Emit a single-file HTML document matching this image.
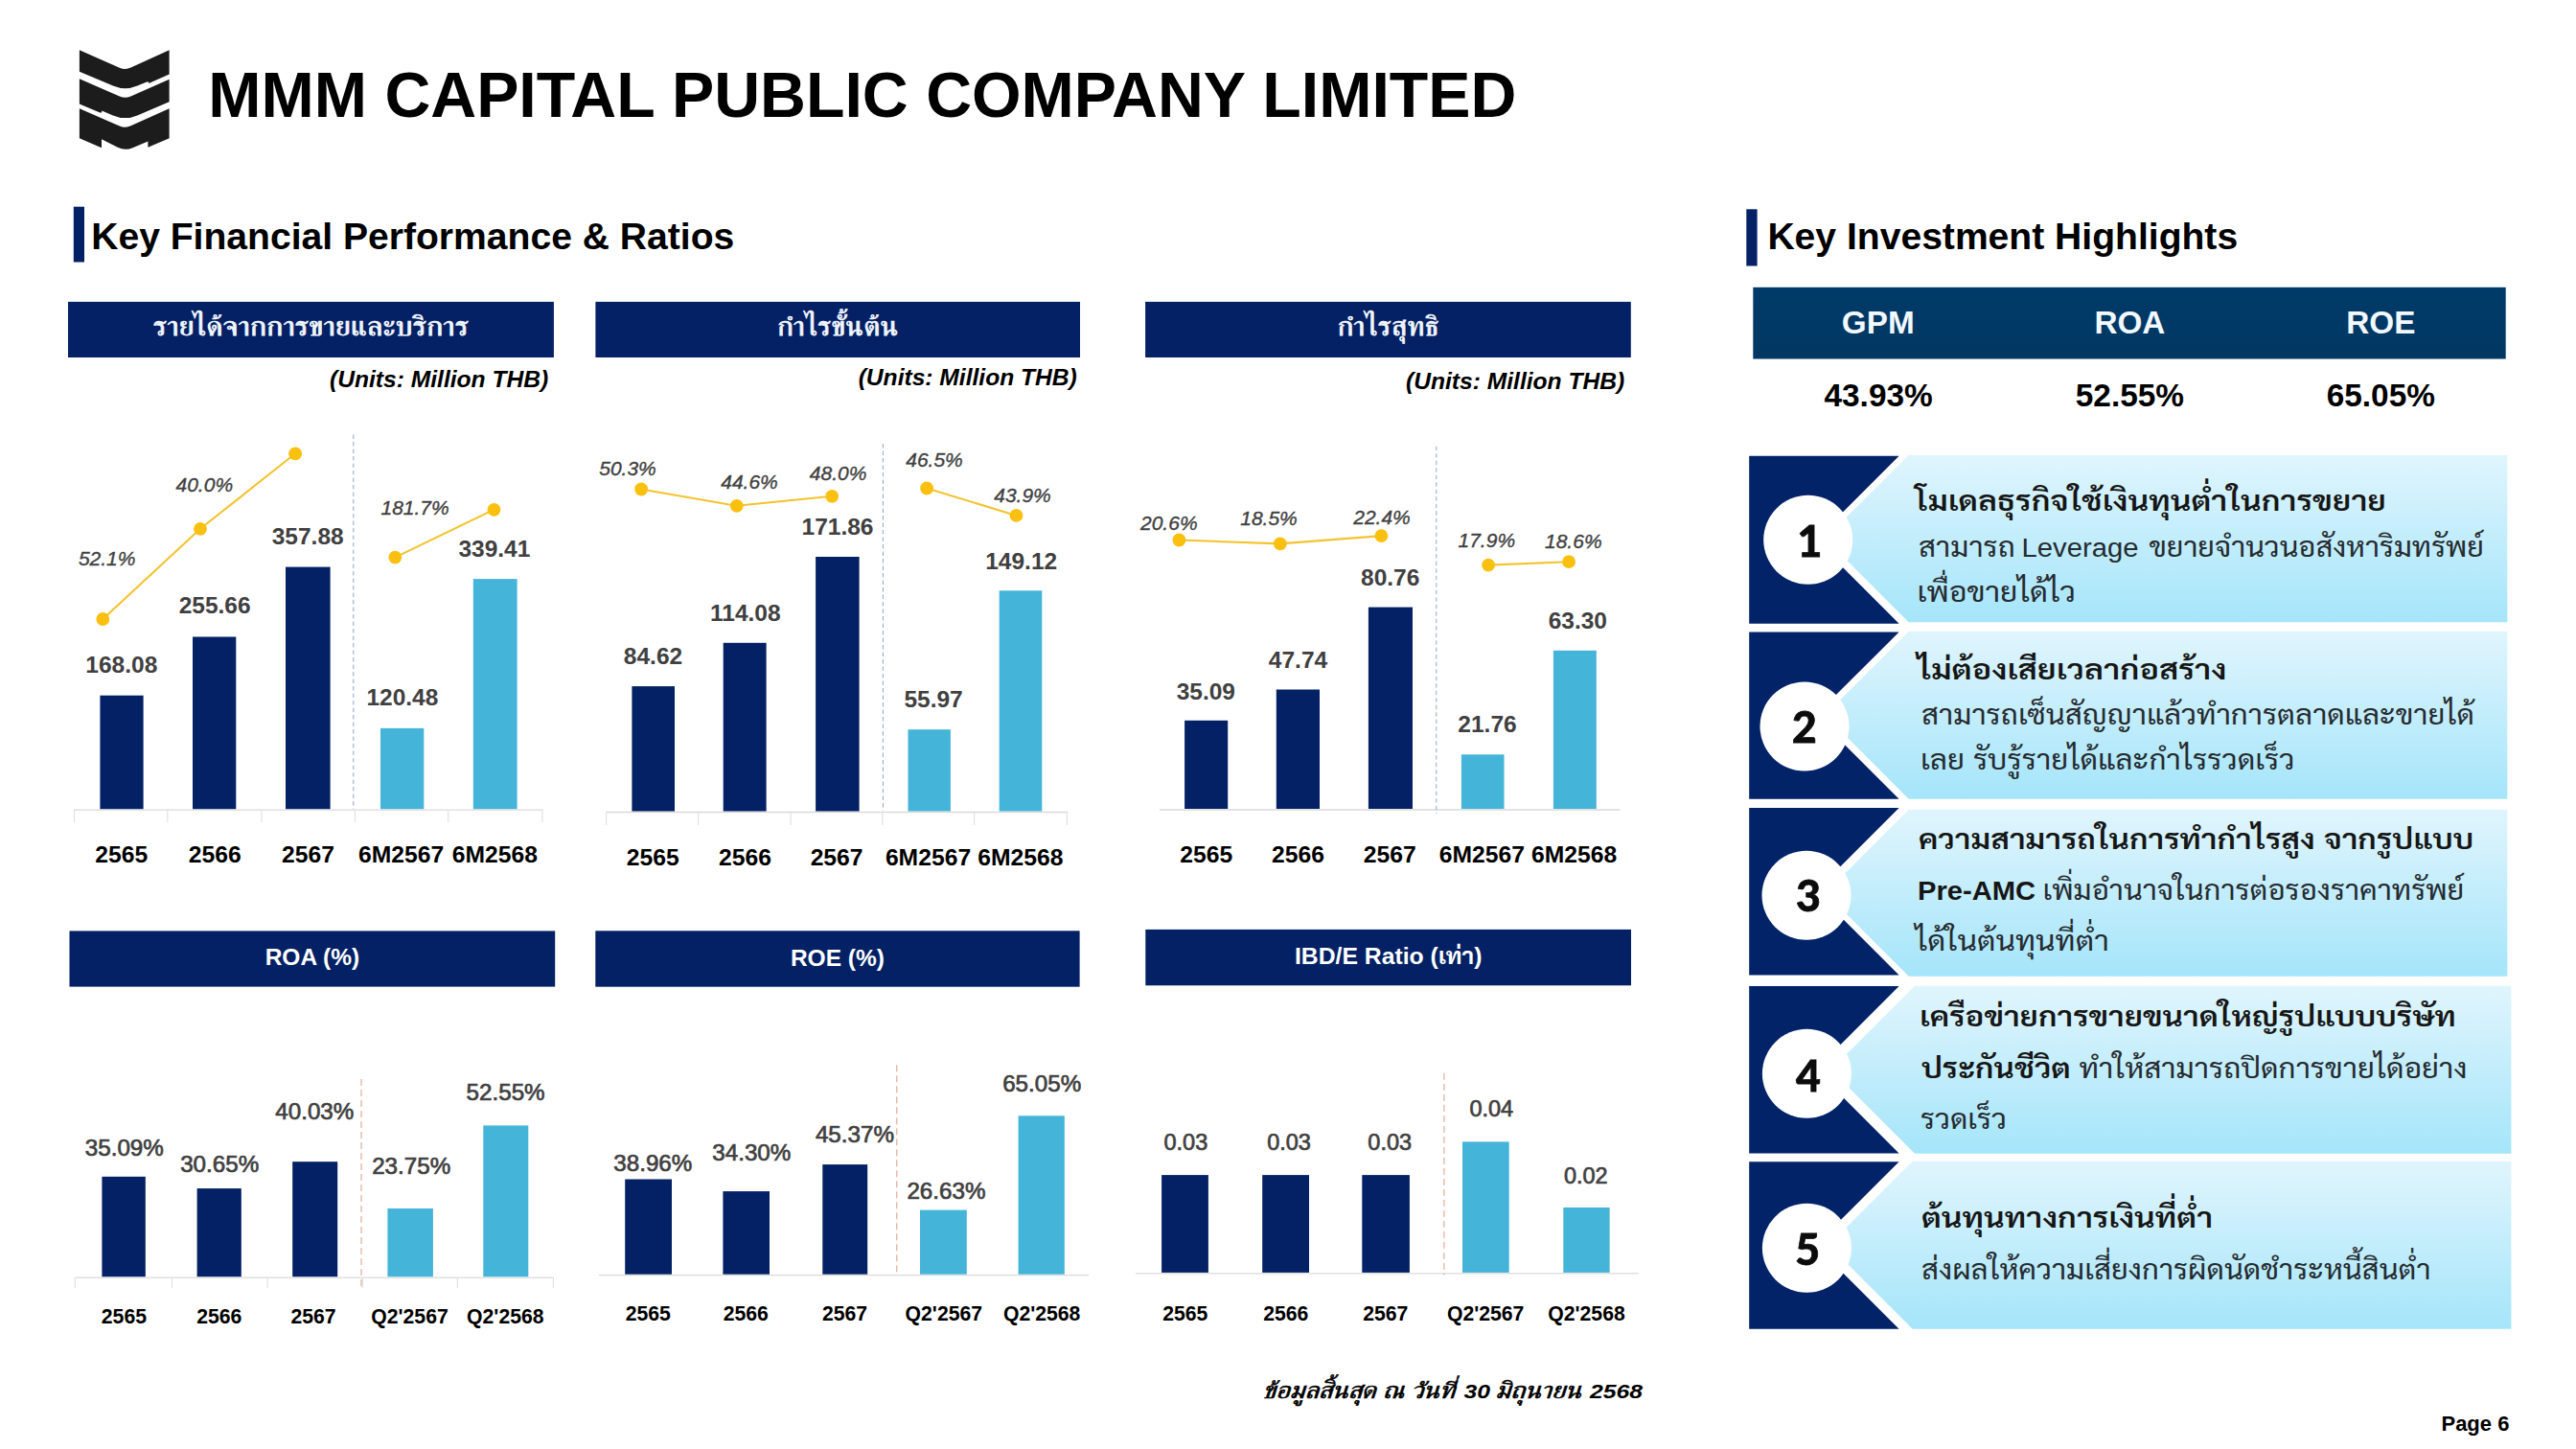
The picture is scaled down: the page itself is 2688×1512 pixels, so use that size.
<!DOCTYPE html>
<html lang="th">
<head>
<meta charset="utf-8">
<title>MMM CAPITAL PUBLIC COMPANY LIMITED - Page 6</title>
<style>
html,body{margin:0;padding:0;background:#fff;}
body{width:2688px;height:1512px;overflow:hidden;}
svg{display:block;font-family:'Liberation Sans','Sarabun','Loma','Noto Sans Thai',sans-serif;}
text{white-space:pre;}
</style>
</head>
<body>
<svg width="2688" height="1512" viewBox="0 0 2688 1512">
<defs>
<linearGradient id="gItem" x1="0" y1="0" x2="0" y2="1">
<stop offset="0" stop-color="#E0F5FD"/><stop offset="1" stop-color="#A5E5FA"/>
</linearGradient>
<linearGradient id="gTbl" x1="0" y1="0" x2="0" y2="1">
<stop offset="0" stop-color="#003A68"/><stop offset="1" stop-color="#003862"/>
</linearGradient>
</defs>
<rect width="2688" height="1512" fill="#fff"/>
<g transform="translate(60,30) scale(0.09662)" fill="#1c1c1c">
<path d="M237,229 L670,421 Q731,448 792,420 L1207,229 L1207,492 L985,590 L985,574 L964,574 L862,617 Q731,673 600,617 L237,463 Z"/>
<path d="M237,541 L670,729.4 Q731,756 792,728.8 L1207,545 L1207,788 L862,935.5 Q731,991.5 600,935.9 L478,884 L478,905 L458,905 L237,812 Z"/>
<path d="M237,862 L670,1049.9 Q731,1076.4 792,1048.8 L1207,862 L1207,1182 L977,1281 L977,1215 L812,1285.2 Q731,1319.6 650,1279.7 L476,1194 L476,1285 L237,1182 Z"/>
</g>
<text x="217.3" y="122.3" font-size="66.3" fill="#000" font-weight="700" >MMM CAPITAL PUBLIC COMPANY LIMITED</text>
<rect x="76.8" y="215.7" width="11.2" height="57.8" fill="#032164" />
<text x="95.2" y="259.9" font-size="39.1" fill="#000" font-weight="700" >Key Financial Performance &amp; Ratios</text>
<rect x="1822.3" y="218.3" width="11.3" height="59.2" fill="#032164" />
<text x="1844.4" y="259.9" font-size="39.1" fill="#000" font-weight="700" >Key Investment Highlights</text>
<rect x="71.0" y="314.9" width="506.9" height="58.1" fill="#032164" />
<text x="324.4" y="349.6" font-size="28.5" fill="#F1F5FC" text-anchor="middle" font-family="'Liberation Serif','FreeSerif','Noto Serif Thai','Sarabun',serif" textLength="329.3" lengthAdjust="spacingAndGlyphs" stroke="#F1F5FC" stroke-width="0.75">รายได้จากการขายและบริการ</text>
<rect x="621.4" y="314.9" width="505.6" height="58.1" fill="#032164" />
<text x="874.2" y="349.6" font-size="28.5" fill="#F1F5FC" text-anchor="middle" font-family="'Liberation Serif','FreeSerif','Noto Serif Thai','Sarabun',serif" textLength="126.5" lengthAdjust="spacingAndGlyphs" stroke="#F1F5FC" stroke-width="0.75">กำไรขั้นต้น</text>
<rect x="1195.1" y="314.9" width="506.7" height="58.1" fill="#032164" />
<text x="1448.4" y="349.6" font-size="28.5" fill="#F1F5FC" text-anchor="middle" font-family="'Liberation Serif','FreeSerif','Noto Serif Thai','Sarabun',serif" textLength="105.7" lengthAdjust="spacingAndGlyphs" stroke="#F1F5FC" stroke-width="0.75">กำไรสุทธิ</text>
<rect x="72.5" y="971.4" width="506.7" height="58.2" fill="#032164" />
<text x="325.9" y="1007.4" font-size="24.5" fill="#fff" font-weight="700" text-anchor="middle" >ROA (%)</text>
<rect x="621.3" y="971.3" width="505.3" height="58.4" fill="#032164" />
<text x="873.9" y="1007.9" font-size="24.5" fill="#fff" font-weight="700" text-anchor="middle" >ROE (%)</text>
<rect x="1195.3" y="969.9" width="506.7" height="58.4" fill="#032164" />
<text x="1448.7" y="1006.0" font-size="24.5" fill="#fff" font-weight="700" text-anchor="middle" textLength="195.5" lengthAdjust="spacingAndGlyphs" >IBD/E Ratio (เท่า)</text>
<text x="572.2" y="403.8" font-size="24.6" fill="#000" font-weight="700" font-style="italic" text-anchor="end" >(Units: Million THB)</text>
<text x="1123.8" y="401.7" font-size="24.6" fill="#000" font-weight="700" font-style="italic" text-anchor="end" >(Units: Million THB)</text>
<text x="1695.2" y="405.7" font-size="24.6" fill="#000" font-weight="700" font-style="italic" text-anchor="end" >(Units: Million THB)</text>
<line x1="77" y1="845.2" x2="566.5" y2="845.2" stroke="#D9D9D9" stroke-width="1.3"/>
<line x1="77.5" y1="845.2" x2="77.5" y2="858" stroke="#E0E0E0" stroke-width="1.1"/>
<line x1="174.8" y1="845.2" x2="174.8" y2="858" stroke="#E0E0E0" stroke-width="1.1"/>
<line x1="272.9" y1="845.2" x2="272.9" y2="858" stroke="#E0E0E0" stroke-width="1.1"/>
<line x1="370.5" y1="845.2" x2="370.5" y2="858" stroke="#E0E0E0" stroke-width="1.1"/>
<line x1="467.7" y1="845.2" x2="467.7" y2="858" stroke="#E0E0E0" stroke-width="1.1"/>
<line x1="565.9" y1="845.2" x2="565.9" y2="858" stroke="#E0E0E0" stroke-width="1.1"/>
<rect x="104.4" y="725.7" width="45.2" height="118.5" fill="#032164" />
<rect x="201.0" y="664.5" width="45.3" height="179.7" fill="#032164" />
<rect x="298.0" y="591.6" width="46.6" height="252.6" fill="#032164" />
<rect x="397.0" y="759.9" width="45.3" height="84.3" fill="#45B4D9" />
<rect x="493.8" y="604.1" width="45.8" height="240.1" fill="#45B4D9" />
<line x1="368.8" y1="453.5" x2="368.8" y2="844" stroke="#8FA3CC" stroke-width="1" stroke-dasharray="4.5 3"/>
<polyline points="107.3,646 209,551.8 308.1,473.3" fill="none" stroke="#F3C32E" stroke-width="2.1"/>
<circle cx="107.3" cy="646" r="6.9" fill="#FAC010"/>
<circle cx="209" cy="551.8" r="6.9" fill="#FAC010"/>
<circle cx="308.1" cy="473.3" r="6.9" fill="#FAC010"/>
<polyline points="412.3,581.6 515.5,531.8" fill="none" stroke="#F3C32E" stroke-width="2.1"/>
<circle cx="412.3" cy="581.6" r="6.9" fill="#FAC010"/>
<circle cx="515.5" cy="531.8" r="6.9" fill="#FAC010"/>
<text x="111.7" y="589.6" font-size="21" fill="#404040" font-style="italic" text-anchor="middle" stroke="#404040" stroke-width="0.35">52.1%</text>
<text x="213.3" y="512.6" font-size="21" fill="#404040" font-style="italic" text-anchor="middle" stroke="#404040" stroke-width="0.35">40.0%</text>
<text x="433.1" y="536.9" font-size="21" fill="#404040" font-style="italic" text-anchor="middle" stroke="#404040" stroke-width="0.35">181.7%</text>
<text x="126.8" y="702.3" font-size="24.5" fill="#404040" font-weight="700" text-anchor="middle" >168.08</text>
<text x="224.1" y="640.4" font-size="24.5" fill="#404040" font-weight="700" text-anchor="middle" >255.66</text>
<text x="321.2" y="568.2" font-size="24.5" fill="#404040" font-weight="700" text-anchor="middle" >357.88</text>
<text x="419.9" y="736.4" font-size="24.5" fill="#404040" font-weight="700" text-anchor="middle" >120.48</text>
<text x="515.9" y="581.2" font-size="24.5" fill="#404040" font-weight="700" text-anchor="middle" >339.41</text>
<text x="126.8" y="900.0" font-size="24.7" fill="#000" font-weight="700" text-anchor="middle" >2565</text>
<text x="224.2" y="900.0" font-size="24.7" fill="#000" font-weight="700" text-anchor="middle" >2566</text>
<text x="321.5" y="900.0" font-size="24.7" fill="#000" font-weight="700" text-anchor="middle" >2567</text>
<text x="418.7" y="900.0" font-size="24.7" fill="#000" font-weight="700" text-anchor="middle" >6M2567</text>
<text x="516.3" y="900.0" font-size="24.7" fill="#000" font-weight="700" text-anchor="middle" >6M2568</text>
<line x1="632.6" y1="847.5" x2="1114" y2="847.5" stroke="#D9D9D9" stroke-width="1.3"/>
<line x1="632.6" y1="847.5" x2="632.6" y2="861" stroke="#E0E0E0" stroke-width="1.1"/>
<line x1="728.6" y1="847.5" x2="728.6" y2="861" stroke="#E0E0E0" stroke-width="1.1"/>
<line x1="825.1" y1="847.5" x2="825.1" y2="861" stroke="#E0E0E0" stroke-width="1.1"/>
<line x1="920.9" y1="847.5" x2="920.9" y2="861" stroke="#E0E0E0" stroke-width="1.1"/>
<line x1="1016.6" y1="847.5" x2="1016.6" y2="861" stroke="#E0E0E0" stroke-width="1.1"/>
<line x1="1113.4" y1="847.5" x2="1113.4" y2="861" stroke="#E0E0E0" stroke-width="1.1"/>
<rect x="659.4" y="716.1" width="44.6" height="130.4" fill="#032164" />
<rect x="754.7" y="670.8" width="44.9" height="175.7" fill="#032164" />
<rect x="851.1" y="581.0" width="45.5" height="265.5" fill="#032164" />
<rect x="947.5" y="761.2" width="44.4" height="85.3" fill="#45B4D9" />
<rect x="1042.7" y="616.3" width="44.6" height="230.2" fill="#45B4D9" />
<line x1="921.4" y1="463" x2="921.4" y2="846" stroke="#8FA3CC" stroke-width="1" stroke-dasharray="4.5 3"/>
<polyline points="669.1,510.5 768.8,527.8 868.2,517.8" fill="none" stroke="#F3C32E" stroke-width="2.1"/>
<circle cx="669.1" cy="510.5" r="6.9" fill="#FAC010"/>
<circle cx="768.8" cy="527.8" r="6.9" fill="#FAC010"/>
<circle cx="868.2" cy="517.8" r="6.9" fill="#FAC010"/>
<polyline points="967.1,509.5 1060.5,537.9" fill="none" stroke="#F3C32E" stroke-width="2.1"/>
<circle cx="967.1" cy="509.5" r="6.9" fill="#FAC010"/>
<circle cx="1060.5" cy="537.9" r="6.9" fill="#FAC010"/>
<text x="655.0" y="495.7" font-size="21" fill="#404040" font-style="italic" text-anchor="middle" stroke="#404040" stroke-width="0.35">50.3%</text>
<text x="782.0" y="510.0" font-size="21" fill="#404040" font-style="italic" text-anchor="middle" stroke="#404040" stroke-width="0.35">44.6%</text>
<text x="874.6" y="500.9" font-size="21" fill="#404040" font-style="italic" text-anchor="middle" stroke="#404040" stroke-width="0.35">48.0%</text>
<text x="975.0" y="486.5" font-size="21" fill="#404040" font-style="italic" text-anchor="middle" stroke="#404040" stroke-width="0.35">46.5%</text>
<text x="1067.0" y="524.4" font-size="21" fill="#404040" font-style="italic" text-anchor="middle" stroke="#404040" stroke-width="0.35">43.9%</text>
<text x="681.5" y="692.6" font-size="24.5" fill="#404040" font-weight="700" text-anchor="middle" >84.62</text>
<text x="777.8" y="647.8" font-size="24.5" fill="#404040" font-weight="700" text-anchor="middle" >114.08</text>
<text x="874.0" y="558.3" font-size="24.5" fill="#404040" font-weight="700" text-anchor="middle" >171.86</text>
<text x="974.1" y="737.7" font-size="24.5" fill="#404040" font-weight="700" text-anchor="middle" >55.97</text>
<text x="1065.7" y="593.5" font-size="24.5" fill="#404040" font-weight="700" text-anchor="middle" >149.12</text>
<text x="681.3" y="902.5" font-size="24.7" fill="#000" font-weight="700" text-anchor="middle" >2565</text>
<text x="777.4" y="902.5" font-size="24.7" fill="#000" font-weight="700" text-anchor="middle" >2566</text>
<text x="873.1" y="902.5" font-size="24.7" fill="#000" font-weight="700" text-anchor="middle" >2567</text>
<text x="968.5" y="902.5" font-size="24.7" fill="#000" font-weight="700" text-anchor="middle" >6M2567</text>
<text x="1064.9" y="902.5" font-size="24.7" fill="#000" font-weight="700" text-anchor="middle" >6M2568</text>
<line x1="1210" y1="845" x2="1690.6" y2="845" stroke="#D9D9D9" stroke-width="1.3"/>
<rect x="1236.1" y="751.8" width="45.1" height="92.2" fill="#032164" />
<rect x="1331.8" y="719.5" width="45.2" height="124.5" fill="#032164" />
<rect x="1427.9" y="633.6" width="46.1" height="210.4" fill="#032164" />
<rect x="1524.9" y="787.3" width="44.6" height="56.7" fill="#45B4D9" />
<rect x="1620.9" y="678.8" width="44.9" height="165.2" fill="#45B4D9" />
<line x1="1498.8" y1="465.7" x2="1498.8" y2="849" stroke="#8FA3CC" stroke-width="1" stroke-dasharray="4.5 3"/>
<polyline points="1230.4,563.5 1335.8,567.4 1441.4,559.1" fill="none" stroke="#F3C32E" stroke-width="2.1"/>
<circle cx="1230.4" cy="563.5" r="6.9" fill="#FAC010"/>
<circle cx="1335.8" cy="567.4" r="6.9" fill="#FAC010"/>
<circle cx="1441.4" cy="559.1" r="6.9" fill="#FAC010"/>
<polyline points="1553.1,589.6 1637.1,586.2" fill="none" stroke="#F3C32E" stroke-width="2.1"/>
<circle cx="1553.1" cy="589.6" r="6.9" fill="#FAC010"/>
<circle cx="1637.1" cy="586.2" r="6.9" fill="#FAC010"/>
<text x="1219.8" y="553.1" font-size="21" fill="#404040" font-style="italic" text-anchor="middle" stroke="#404040" stroke-width="0.35">20.6%</text>
<text x="1324.0" y="547.8" font-size="21" fill="#404040" font-style="italic" text-anchor="middle" stroke="#404040" stroke-width="0.35">18.5%</text>
<text x="1442.0" y="547.1" font-size="21" fill="#404040" font-style="italic" text-anchor="middle" stroke="#404040" stroke-width="0.35">22.4%</text>
<text x="1551.3" y="570.5" font-size="21" fill="#404040" font-style="italic" text-anchor="middle" stroke="#404040" stroke-width="0.35">17.9%</text>
<text x="1641.8" y="572.1" font-size="21" fill="#404040" font-style="italic" text-anchor="middle" stroke="#404040" stroke-width="0.35">18.6%</text>
<text x="1258.3" y="729.9" font-size="24.5" fill="#404040" font-weight="700" text-anchor="middle" >35.09</text>
<text x="1354.5" y="696.5" font-size="24.5" fill="#404040" font-weight="700" text-anchor="middle" >47.74</text>
<text x="1450.7" y="610.5" font-size="24.5" fill="#404040" font-weight="700" text-anchor="middle" >80.76</text>
<text x="1552.0" y="763.8" font-size="24.5" fill="#404040" font-weight="700" text-anchor="middle" >21.76</text>
<text x="1646.3" y="655.6" font-size="24.5" fill="#404040" font-weight="700" text-anchor="middle" >63.30</text>
<text x="1258.8" y="899.5" font-size="24.7" fill="#000" font-weight="700" text-anchor="middle" >2565</text>
<text x="1354.5" y="899.5" font-size="24.7" fill="#000" font-weight="700" text-anchor="middle" >2566</text>
<text x="1450.3" y="899.5" font-size="24.7" fill="#000" font-weight="700" text-anchor="middle" >2567</text>
<text x="1546.3" y="899.5" font-size="24.7" fill="#000" font-weight="700" text-anchor="middle" >6M2567</text>
<text x="1642.6" y="899.5" font-size="24.7" fill="#000" font-weight="700" text-anchor="middle" >6M2568</text>
<line x1="78.3" y1="1333.2" x2="577.9" y2="1333.2" stroke="#D9D9D9" stroke-width="1.3"/>
<line x1="78.3" y1="1333.2" x2="78.3" y2="1344" stroke="#E0E0E0" stroke-width="1.1"/>
<line x1="179.5" y1="1333.2" x2="179.5" y2="1344" stroke="#E0E0E0" stroke-width="1.1"/>
<line x1="279.2" y1="1333.2" x2="279.2" y2="1344" stroke="#E0E0E0" stroke-width="1.1"/>
<line x1="378.3" y1="1333.2" x2="378.3" y2="1344" stroke="#E0E0E0" stroke-width="1.1"/>
<line x1="477.4" y1="1333.2" x2="477.4" y2="1344" stroke="#E0E0E0" stroke-width="1.1"/>
<line x1="577.4" y1="1333.2" x2="577.4" y2="1344" stroke="#E0E0E0" stroke-width="1.1"/>
<rect x="106.4" y="1227.8" width="45.4" height="104.4" fill="#032164" />
<rect x="205.6" y="1240.1" width="46.2" height="92.1" fill="#032164" />
<rect x="305.2" y="1212.2" width="47.0" height="120.0" fill="#032164" />
<rect x="404.4" y="1261.0" width="47.5" height="71.2" fill="#45B4D9" />
<rect x="504.3" y="1174.4" width="47.0" height="157.8" fill="#45B4D9" />
<line x1="377" y1="1126" x2="377" y2="1342.6" stroke="#DB9C82" stroke-width="1" stroke-dasharray="7 4"/>
<text x="129.8" y="1205.7" font-size="24.2" fill="#404040" text-anchor="middle" stroke="#404040" stroke-width="0.7">35.09%</text>
<text x="229.2" y="1223.2" font-size="24.2" fill="#404040" text-anchor="middle" stroke="#404040" stroke-width="0.7">30.65%</text>
<text x="328.3" y="1167.8" font-size="24.2" fill="#404040" text-anchor="middle" stroke="#404040" stroke-width="0.7">40.03%</text>
<text x="429.2" y="1224.5" font-size="24.2" fill="#404040" text-anchor="middle" stroke="#404040" stroke-width="0.7">23.75%</text>
<text x="527.6" y="1148.3" font-size="24.2" fill="#404040" text-anchor="middle" stroke="#404040" stroke-width="0.7">52.55%</text>
<text x="129.4" y="1381.0" font-size="21.2" fill="#000" font-weight="700" text-anchor="middle" >2565</text>
<text x="228.7" y="1381.0" font-size="21.2" fill="#000" font-weight="700" text-anchor="middle" >2566</text>
<text x="327.0" y="1381.0" font-size="21.2" fill="#000" font-weight="700" text-anchor="middle" >2567</text>
<text x="427.5" y="1381.0" font-size="21.2" fill="#000" font-weight="700" text-anchor="middle" >Q2'2567</text>
<text x="527.3" y="1381.0" font-size="21.2" fill="#000" font-weight="700" text-anchor="middle" >Q2'2568</text>
<line x1="624.8" y1="1330.7" x2="1136.1" y2="1330.7" stroke="#D9D9D9" stroke-width="1.3"/>
<rect x="652.2" y="1230.5" width="48.8" height="99.2" fill="#032164" />
<rect x="754.4" y="1243.1" width="48.6" height="86.6" fill="#032164" />
<rect x="858.3" y="1215.1" width="46.9" height="114.6" fill="#032164" />
<rect x="960.0" y="1262.6" width="48.8" height="67.1" fill="#45B4D9" />
<rect x="1062.6" y="1164.3" width="48.2" height="165.4" fill="#45B4D9" />
<line x1="935.8" y1="1111.3" x2="935.8" y2="1330.5" stroke="#DB9C82" stroke-width="1" stroke-dasharray="7 4"/>
<text x="681.3" y="1222.2" font-size="24.2" fill="#404040" text-anchor="middle" stroke="#404040" stroke-width="0.7">38.96%</text>
<text x="784.3" y="1211.2" font-size="24.2" fill="#404040" text-anchor="middle" stroke="#404040" stroke-width="0.7">34.30%</text>
<text x="891.9" y="1192.2" font-size="24.2" fill="#404040" text-anchor="middle" stroke="#404040" stroke-width="0.7">45.37%</text>
<text x="987.4" y="1250.9" font-size="24.2" fill="#404040" text-anchor="middle" stroke="#404040" stroke-width="0.7">26.63%</text>
<text x="1087.2" y="1138.7" font-size="24.2" fill="#404040" text-anchor="middle" stroke="#404040" stroke-width="0.7">65.05%</text>
<text x="676.3" y="1377.9" font-size="21.2" fill="#000" font-weight="700" text-anchor="middle" >2565</text>
<text x="778.3" y="1377.9" font-size="21.2" fill="#000" font-weight="700" text-anchor="middle" >2566</text>
<text x="881.5" y="1377.9" font-size="21.2" fill="#000" font-weight="700" text-anchor="middle" >2567</text>
<text x="984.8" y="1377.9" font-size="21.2" fill="#000" font-weight="700" text-anchor="middle" >Q2'2567</text>
<text x="1087.2" y="1377.9" font-size="21.2" fill="#000" font-weight="700" text-anchor="middle" >Q2'2568</text>
<line x1="1185.2" y1="1328.8" x2="1709.6" y2="1328.8" stroke="#D9D9D9" stroke-width="1.3"/>
<rect x="1212.1" y="1226.1" width="48.8" height="101.8" fill="#032164" />
<rect x="1317.2" y="1226.1" width="48.8" height="101.8" fill="#032164" />
<rect x="1421.3" y="1226.1" width="49.6" height="101.8" fill="#032164" />
<rect x="1526.0" y="1191.4" width="48.7" height="136.5" fill="#45B4D9" />
<rect x="1631.3" y="1260.0" width="48.3" height="67.9" fill="#45B4D9" />
<line x1="1506.9" y1="1119.9" x2="1506.9" y2="1330.5" stroke="#DB9C82" stroke-width="1" stroke-dasharray="7 4"/>
<text x="1237.4" y="1200.0" font-size="23.5" fill="#404040" text-anchor="middle" stroke="#404040" stroke-width="0.7">0.03</text>
<text x="1345.0" y="1200.0" font-size="23.5" fill="#404040" text-anchor="middle" stroke="#404040" stroke-width="0.7">0.03</text>
<text x="1450.2" y="1200.0" font-size="23.5" fill="#404040" text-anchor="middle" stroke="#404040" stroke-width="0.7">0.03</text>
<text x="1556.3" y="1164.8" font-size="23.5" fill="#404040" text-anchor="middle" stroke="#404040" stroke-width="0.7">0.04</text>
<text x="1654.8" y="1235.2" font-size="23.5" fill="#404040" text-anchor="middle" stroke="#404040" stroke-width="0.7">0.02</text>
<text x="1236.7" y="1377.9" font-size="21.2" fill="#000" font-weight="700" text-anchor="middle" >2565</text>
<text x="1341.8" y="1377.9" font-size="21.2" fill="#000" font-weight="700" text-anchor="middle" >2566</text>
<text x="1445.7" y="1377.9" font-size="21.2" fill="#000" font-weight="700" text-anchor="middle" >2567</text>
<text x="1550.2" y="1377.9" font-size="21.2" fill="#000" font-weight="700" text-anchor="middle" >Q2'2567</text>
<text x="1655.5" y="1377.9" font-size="21.2" fill="#000" font-weight="700" text-anchor="middle" >Q2'2568</text>
<text x="1319.6" y="1459.4" font-size="25" font-style="italic" font-family="'Liberation Serif','FreeSerif','Noto Serif Thai','Sarabun',serif" stroke="#000" stroke-width="0.6" textLength="394.5" lengthAdjust="spacingAndGlyphs">ข้อมูลสิ้นสุด ณ วันที่ <tspan font-family="'Liberation Sans','Sarabun','Loma','Noto Sans Thai',sans-serif" font-size="21" font-weight="700" stroke="none">30</tspan> มิถุนายน <tspan font-family="'Liberation Sans','Sarabun','Loma','Noto Sans Thai',sans-serif" font-size="21" font-weight="700" stroke="none">2568</tspan></text>
<text x="2618.4" y="1493.0" font-size="22" fill="#000" font-weight="700" text-anchor="end" >Page 6</text>
<rect x="1829.3" y="299.8" width="785.4" height="74.7" fill="url(#gTbl)"/>
<text x="1959.8" y="347.5" font-size="33.3" fill="#F2F8FD" font-weight="700" text-anchor="middle" >GPM</text>
<text x="2222.4" y="347.5" font-size="33.3" fill="#F2F8FD" font-weight="700" text-anchor="middle" >ROA</text>
<text x="2484.4" y="347.5" font-size="33.3" fill="#F2F8FD" font-weight="700" text-anchor="middle" >ROE</text>
<text x="1960.1" y="423.8" font-size="33.4" fill="#000" font-weight="700" text-anchor="middle" >43.93%</text>
<text x="2222.4" y="423.8" font-size="33.4" fill="#000" font-weight="700" text-anchor="middle" >52.55%</text>
<text x="2484.3" y="423.8" font-size="33.4" fill="#000" font-weight="700" text-anchor="middle" >65.05%</text>
<polygon points="1825.2,475.8 1981.6,475.8 1894.1,563.2 1981.6,650.7 1825.2,650.7" fill="#032368"/>
<polygon points="1991.7,474.7 2616.3,474.7 2616.3,649.3 1991.7,649.3 1904.4,562.0" fill="url(#gItem)"/>
<circle cx="1886.7" cy="563.3" r="46.5" fill="#fff"/>
<text x="1887.6" y="580.7" font-size="51" fill="#0c0c0c" font-weight="700" text-anchor="middle" font-family="'Carlito','Liberation Sans',sans-serif" stroke="#0c0c0c" stroke-width="0.8">1</text>
<text x="1998.3" y="533.4" font-size="29.5" font-weight="600" fill="#161616" textLength="491.6" lengthAdjust="spacingAndGlyphs">โมเดลธุรกิจใช้เงินทุนต่ำในการขยาย</text>
<text x="2002.0" y="581.3" font-size="28.0" fill="#262B30" textLength="100.9" lengthAdjust="spacingAndGlyphs">สามารถ</text>
<text x="2109.6" y="581.3" font-size="28.4" fill="#262B30" textLength="121.9" lengthAdjust="spacingAndGlyphs">Leverage</text>
<text x="2242.4" y="581.3" font-size="28.0" fill="#262B30" textLength="349.6" lengthAdjust="spacingAndGlyphs">ขยายจำนวนอสังหาริมทรัพย์</text>
<text x="2000.6" y="627.9" font-size="28.0" fill="#262B30" textLength="165.3" lengthAdjust="spacingAndGlyphs">เพื่อขายได้ไว</text>
<polygon points="1825.2,659.4 1981.6,659.4 1894.4,746.6 1981.6,833.8 1825.2,833.8" fill="#032368"/>
<polygon points="1991.7,658.7 2616.3,658.7 2616.3,833.7 1991.7,833.7 1904.2,746.2" fill="url(#gItem)"/>
<circle cx="1883.0" cy="758.0" r="46.5" fill="#fff"/>
<text x="1882.8" y="775.2" font-size="51" fill="#0c0c0c" font-weight="700" text-anchor="middle" font-family="'Carlito','Liberation Sans',sans-serif" stroke="#0c0c0c" stroke-width="0.8">2</text>
<text x="2000.5" y="708.9" font-size="29.5" font-weight="600" fill="#161616" textLength="323.0" lengthAdjust="spacingAndGlyphs">ไม่ต้องเสียเวลาก่อสร้าง</text>
<text x="2005.0" y="756.4" font-size="28.0" fill="#262B30" textLength="577.0" lengthAdjust="spacingAndGlyphs">สามารถเซ็นสัญญาแล้วทำการตลาดและขายได้</text>
<text x="2004.1" y="803.0" font-size="28.0" fill="#262B30" textLength="390.4" lengthAdjust="spacingAndGlyphs">เลย รับรู้รายได้และกำไรรวดเร็ว</text>
<polygon points="1825.2,843.1 1981.6,843.1 1894.4,930.3 1981.6,1017.5 1825.2,1017.5" fill="#032368"/>
<polygon points="1991.7,844.8 2616.3,844.8 2616.3,1018.7 1991.7,1018.7 1904.8,931.8" fill="url(#gItem)"/>
<circle cx="1885.0" cy="934.3" r="46.5" fill="#fff"/>
<text x="1886.5" y="950.9" font-size="51" fill="#0c0c0c" font-weight="700" text-anchor="middle" font-family="'Carlito','Liberation Sans',sans-serif" stroke="#0c0c0c" stroke-width="0.8">3</text>
<text x="2001.9" y="885.8" font-size="29.5" font-weight="600" fill="#161616" textLength="579.5" lengthAdjust="spacingAndGlyphs">ความสามารถในการทำกำไรสูง จากรูปแบบ</text>
<text x="2001.0" y="938.6" font-size="28.4" font-weight="700" fill="#161616" textLength="123.0" lengthAdjust="spacingAndGlyphs">Pre-AMC</text>
<text x="2131.6" y="938.6" font-size="28.0" fill="#262B30" textLength="439.8" lengthAdjust="spacingAndGlyphs">เพิ่มอำนาจในการต่อรองราคาทรัพย์</text>
<text x="1998.8" y="992.0" font-size="28.0" fill="#262B30" textLength="202.0" lengthAdjust="spacingAndGlyphs">ได้ในต้นทุนที่ต่ำ</text>
<polygon points="1825.2,1029.0 1981.6,1029.0 1894.4,1116.2 1981.6,1203.4 1825.2,1203.4" fill="#032368"/>
<polygon points="1998.0,1028.7 2620.4,1028.7 2620.4,1203.7 1998.0,1203.7 1910.5,1116.2" fill="url(#gItem)"/>
<circle cx="1885.4" cy="1120.3" r="46.5" fill="#fff"/>
<text x="1886.6" y="1139.1" font-size="51" fill="#0c0c0c" font-weight="700" text-anchor="middle" font-family="'Carlito','Liberation Sans',sans-serif" stroke="#0c0c0c" stroke-width="0.8">4</text>
<text x="2003.1" y="1071.3" font-size="29.5" font-weight="600" fill="#161616" textLength="559.8" lengthAdjust="spacingAndGlyphs">เครือข่ายการขายขนาดใหญ่รูปแบบบริษัท</text>
<text x="2004.9" y="1124.7" font-size="29.5" font-weight="600" fill="#161616" textLength="156.0" lengthAdjust="spacingAndGlyphs">ประกันชีวิต</text>
<text x="2169.5" y="1124.7" font-size="28.0" fill="#262B30" textLength="405.0" lengthAdjust="spacingAndGlyphs">ทำให้สามารถปิดการขายได้อย่าง</text>
<text x="2004.0" y="1178.2" font-size="28.0" fill="#262B30" textLength="89.9" lengthAdjust="spacingAndGlyphs">รวดเร็ว</text>
<polygon points="1825.2,1212.3 1981.6,1212.3 1894.3,1299.5 1981.6,1386.8 1825.2,1386.8" fill="#032368"/>
<polygon points="1995.7,1211.7 2620.4,1211.7 2620.4,1386.7 1995.7,1386.7 1908.2,1299.2" fill="url(#gItem)"/>
<circle cx="1885.4" cy="1302.3" r="46.5" fill="#fff"/>
<text x="1886.4" y="1319.6" font-size="51" fill="#0c0c0c" font-weight="700" text-anchor="middle" font-family="'Carlito','Liberation Sans',sans-serif" stroke="#0c0c0c" stroke-width="0.8">5</text>
<text x="2005.0" y="1280.7" font-size="29.5" font-weight="600" fill="#161616" textLength="304.0" lengthAdjust="spacingAndGlyphs">ต้นทุนทางการเงินที่ต่ำ</text>
<text x="2005.0" y="1335.1" font-size="28.0" fill="#262B30" textLength="531.5" lengthAdjust="spacingAndGlyphs">ส่งผลให้ความเสี่ยงการผิดนัดชำระหนี้สินต่ำ</text>
</svg>
</body>
</html>
